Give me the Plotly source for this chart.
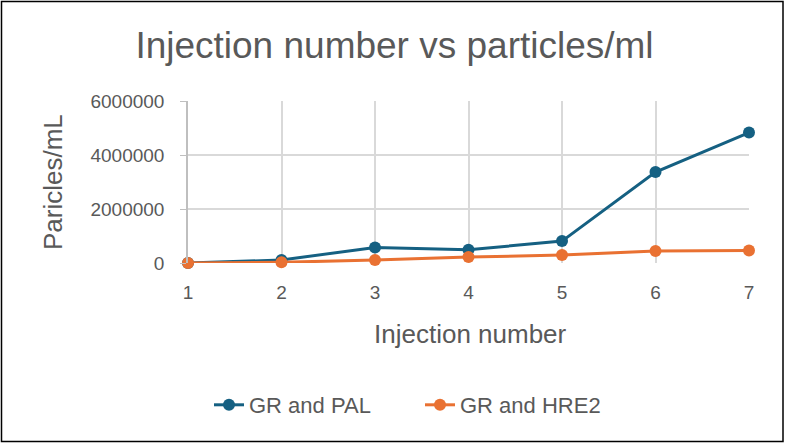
import plotly.graph_objects as go

injection = [1, 2, 3, 4, 5, 6, 7]
gr_pal = [0, 110000, 578000, 492000, 811000, 3370000, 4830000]
gr_hre2 = [0, 25000, 110000, 221000, 295000, 443000, 467000]
y_ticks = [0, 2000000, 4000000, 6000000]

BLUE = "#156082"
ORANGE = "#E97132"
TXT = "#595959"
FONT = "Liberation Sans"

W, H = 785, 443
L, R, T, B = 188, 36, 101, 180
pw, ph = W - L - R, H - T - B

fig = go.Figure()
fig.add_trace(go.Scatter(x=injection, y=gr_pal, name="GR and PAL", mode="lines+markers",
                         cliponaxis=False,
                         line=dict(color=BLUE, width=3), marker=dict(size=12, color=BLUE)))
fig.add_trace(go.Scatter(x=injection, y=gr_hre2, name="GR and HRE2", mode="lines+markers",
                         cliponaxis=False,
                         line=dict(color=ORANGE, width=3), marker=dict(size=12, color=ORANGE)))

def px_x(x):
    return (x - L) / pw

def px_y(y):
    return (H - B - y) / ph

fig.update_layout(
    width=W, height=H,
    margin=dict(l=L, r=R, t=T, b=B),
    paper_bgcolor="white", plot_bgcolor="white",
    font=dict(family=FONT, color=TXT, size=15),
    title=dict(text="Injection number vs particles/ml", xref="container", x=394.5 / W,
               xanchor="center", yref="container", y=1 - 45 / H, yanchor="middle",
               font=dict(size=37, color=TXT, family=FONT)),
    showlegend=True,
    legend=dict(orientation="h", x=px_x(209), xanchor="left", y=px_y(405), yanchor="middle",
                font=dict(size=22, color=TXT), entrywidth=166, entrywidthmode="pixels"),
    xaxis=dict(range=[1, 7], tickvals=injection, showgrid=True, gridcolor="#D9D9D9", gridwidth=1.5,
               zeroline=False, showline=False, ticks="", ticklabelstandoff=16,
               tickfont=dict(size=19, color=TXT)),
    yaxis=dict(range=[0, 6000000], tickvals=y_ticks, ticktext=[str(v) for v in y_ticks],
               showgrid=True, gridcolor="#D9D9D9", gridwidth=1.5, zeroline=False,
               showline=True, linecolor="#BFBFBF", linewidth=1.5, ticks="outside", ticklen=6,
               tickcolor="#BFBFBF", ticklabelstandoff=12,
               tickfont=dict(size=19, color=TXT)),
    annotations=[
        dict(text="Injection number", xref="paper", yref="paper", x=px_x(470), y=px_y(334),
             xanchor="center", yanchor="middle", showarrow=False, font=dict(size=26, color=TXT)),
        dict(text="Paricles/mL", xref="paper", yref="paper", x=px_x(53), y=px_y(182),
             xanchor="center", yanchor="middle", showarrow=False, textangle=-90,
             font=dict(size=26, color=TXT)),
    ],
    shapes=[dict(type="rect", xref="paper", yref="paper",
                 x0=px_x(1.5), x1=px_x(783), y0=px_y(441.5), y1=px_y(1.5),
                 line=dict(color="black", width=1.5), layer="above")],
)

fig.write_html("out.html", config={"displayModeBar": False},
               post_script="document.body.style.margin='0';document.body.style.overflow='hidden';")
